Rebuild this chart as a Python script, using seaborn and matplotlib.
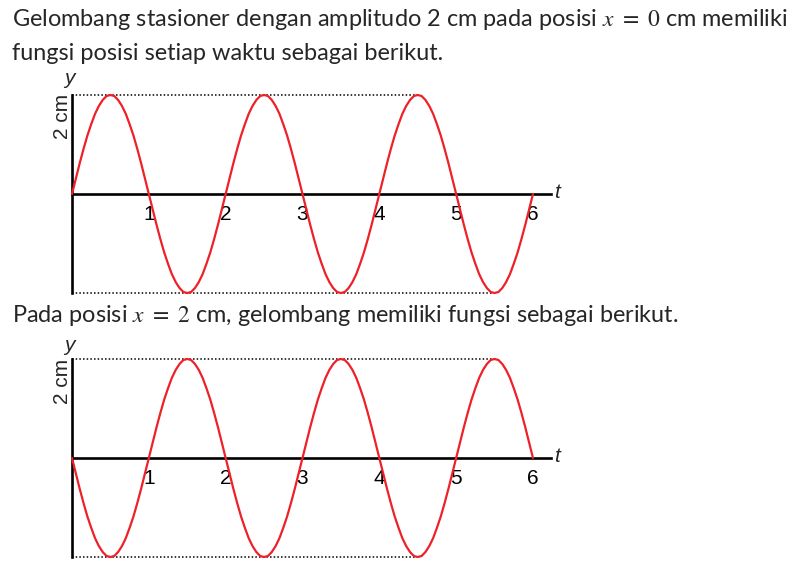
import numpy as np
import matplotlib
matplotlib.use("Agg")
import matplotlib.pyplot as plt
import seaborn as sns

# time samples (s), every 0.05 s from 0 to 6
t = np.round(np.arange(0, 6.001, 0.05), 2)

# displacement at x = 0 cm (cm)
y_x0 = [
    0, 0.31, 0.62, 0.91, 1.18, 1.41, 1.62, 1.78, 1.90, 1.98,
    2.00, 1.98, 1.90, 1.78, 1.62, 1.41, 1.18, 0.91, 0.62, 0.31,
    0, -0.31, -0.62, -0.91, -1.18, -1.41, -1.62, -1.78, -1.90, -1.98,
    -2.00, -1.98, -1.90, -1.78, -1.62, -1.41, -1.18, -0.91, -0.62, -0.31,
    0, 0.31, 0.62, 0.91, 1.18, 1.41, 1.62, 1.78, 1.90, 1.98,
    2.00, 1.98, 1.90, 1.78, 1.62, 1.41, 1.18, 0.91, 0.62, 0.31,
    0, -0.31, -0.62, -0.91, -1.18, -1.41, -1.62, -1.78, -1.90, -1.98,
    -2.00, -1.98, -1.90, -1.78, -1.62, -1.41, -1.18, -0.91, -0.62, -0.31,
    0, 0.31, 0.62, 0.91, 1.18, 1.41, 1.62, 1.78, 1.90, 1.98,
    2.00, 1.98, 1.90, 1.78, 1.62, 1.41, 1.18, 0.91, 0.62, 0.31,
    0, -0.31, -0.62, -0.91, -1.18, -1.41, -1.62, -1.78, -1.90, -1.98,
    -2.00, -1.98, -1.90, -1.78, -1.62, -1.41, -1.18, -0.91, -0.62, -0.31,
    0,
]

# displacement at x = 2 cm (cm)
y_x2 = [
    0, -0.31, -0.62, -0.91, -1.18, -1.41, -1.62, -1.78, -1.90, -1.98,
    -2.00, -1.98, -1.90, -1.78, -1.62, -1.41, -1.18, -0.91, -0.62, -0.31,
    0, 0.31, 0.62, 0.91, 1.18, 1.41, 1.62, 1.78, 1.90, 1.98,
    2.00, 1.98, 1.90, 1.78, 1.62, 1.41, 1.18, 0.91, 0.62, 0.31,
    0, -0.31, -0.62, -0.91, -1.18, -1.41, -1.62, -1.78, -1.90, -1.98,
    -2.00, -1.98, -1.90, -1.78, -1.62, -1.41, -1.18, -0.91, -0.62, -0.31,
    0, 0.31, 0.62, 0.91, 1.18, 1.41, 1.62, 1.78, 1.90, 1.98,
    2.00, 1.98, 1.90, 1.78, 1.62, 1.41, 1.18, 0.91, 0.62, 0.31,
    0, -0.31, -0.62, -0.91, -1.18, -1.41, -1.62, -1.78, -1.90, -1.98,
    -2.00, -1.98, -1.90, -1.78, -1.62, -1.41, -1.18, -0.91, -0.62, -0.31,
    0, 0.31, 0.62, 0.91, 1.18, 1.41, 1.62, 1.78, 1.90, 1.98,
    2.00, 1.98, 1.90, 1.78, 1.62, 1.41, 1.18, 0.91, 0.62, 0.31,
    0,
]

tick_pos = [1, 2, 3, 4, 5, 6]
tick_labels = ["1", "2", "3", "4", "5", "6"]
amp_label = "2 cm"

line1 = "Gelombang stasioner dengan amplitudo 2 cm pada posisi $x\\ =\\ 0$ cm memiliki"
line2 = "fungsi posisi setiap waktu sebagai berikut."
line3 = "Pada posisi $x\\ =\\ 2$ cm, gelombang memiliki fungsi sebagai berikut."

sns.set_style("white")
plt.rcParams["font.family"] = ["Liberation Sans", "DejaVu Sans"]
plt.rcParams["mathtext.fontset"] = "stix"

W, H = 801, 567
fig = plt.figure(figsize=(W / 100, H / 100), dpi=100)

px_t = 76.83   # pixels per second
px_y = 49.5    # pixels per cm
t_lo, t_hi = -0.5, 6.5
y_lo, y_hi = -2.2, 2.2
red = "#ee2028"


def wave_axes(zero_px):
    left = 72 + t_lo * px_t
    width = (t_hi - t_lo) * px_t
    top = zero_px - y_hi * px_y
    height = (y_hi - y_lo) * px_y
    ax = fig.add_axes([left / W, (H - top - height) / H, width / W, height / H])
    ax.patch.set_alpha(0)
    return ax


def draw_wave(ax, y, y_lbl, cm_lbl):
    y = np.array(y)
    sns.lineplot(x=t, y=y, ax=ax, color=red, lw=1.6, estimator=None, sort=False, zorder=3)
    ax.set_xlim(t_lo, t_hi)
    ax.set_ylim(y_lo, y_hi)
    ax.set_xlabel("")
    ax.set_ylabel("")

    # dotted guides at +/- amplitude up to the last crest / trough
    t_top = t[len(y) - 1 - np.argmax(y[::-1])]
    t_bot = t[len(y) - 1 - np.argmin(y[::-1])]
    ax.hlines(y.max(), 0, t_top, color="black", lw=1.1, linestyles=(0, (1, 1.4)))
    ax.hlines(y.min(), 0, t_bot, color="black", lw=1.1, linestyles=(0, (1, 1.4)))

    for s in ["top", "right"]:
        ax.spines[s].set_visible(False)
    ax.spines["left"].set_position(("data", 0))
    ax.spines["left"].set_bounds(y.min(), y.max())
    ax.spines["bottom"].set_position(("data", 0))
    ax.spines["bottom"].set_bounds(0, 6.24)
    for s in ["left", "bottom"]:
        ax.spines[s].set_linewidth(1.9)
        ax.spines[s].set_color("black")

    ax.set_yticks([])
    ax.set_xticks(tick_pos)
    ax.set_xticklabels(tick_labels)
    ax.tick_params(axis="x", length=0, pad=8, labelsize=15, labelcolor="black")

    ax.text(-0.03, y_lbl, "y", fontsize=15, style="italic", ha="center", va="center")
    ax.text(6.31, 0.04, "t", fontsize=15, style="italic", ha="center", va="center")
    ax.text(-0.13, cm_lbl, amp_label, fontsize=15, rotation=90, ha="center", va="center")


ax1 = wave_axes(194)
draw_wave(ax1, y_x0, 2.34, 1.56)

ax2 = wave_axes(458)
draw_wave(ax2, y_x2, 2.28, 1.54)

txt = dict(fontsize=16.9, family=["Lato", "DejaVu Sans"], va="baseline", ha="left")
fig.text(12 / W, 1 - 26 / H, line1, **txt)
fig.text(12 / W, 1 - 60 / H, line2, **txt)
fig.text(12 / W, 1 - 322 / H, line3, **txt)

fig.savefig("out.png", dpi=100)
